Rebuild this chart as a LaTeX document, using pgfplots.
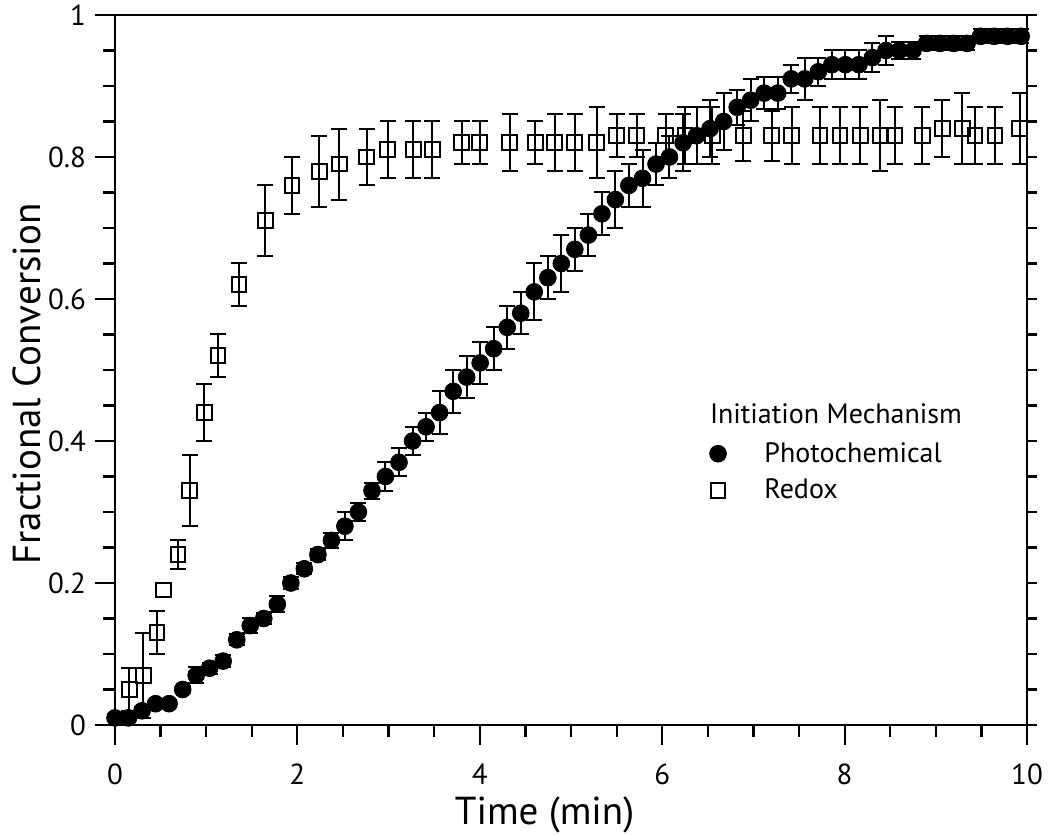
\documentclass[border=0pt]{standalone}
\usepackage{fontspec}
\setmainfont{PT Sans}
\usepackage{pgfplots}
\usepackage{pgfplotstable}
\pgfplotsset{compat=1.18}

\pgfplotstableread{
x y e
0.00 0.01 0.005
0.148 0.01 0.005
0.297 0.02 0.005
0.445 0.03 0.005
0.593 0.03 0.005
0.742 0.05 0.005
0.890 0.07 0.011
1.038 0.08 0.008
1.186 0.09 0.008
1.335 0.12 0.008
1.483 0.14 0.011
1.631 0.15 0.008
1.780 0.17 0.011
1.928 0.20 0.008
2.076 0.22 0.008
2.225 0.24 0.008
2.373 0.26 0.011
2.521 0.28 0.02
2.669 0.30 0.013
2.818 0.33 0.011
2.966 0.35 0.02
3.114 0.37 0.02
3.263 0.40 0.02
3.411 0.42 0.02
3.559 0.44 0.03
3.708 0.47 0.03
3.856 0.49 0.03
4.004 0.51 0.03
4.152 0.53 0.03
4.301 0.56 0.03
4.449 0.58 0.03
4.597 0.61 0.04
4.746 0.63 0.03
4.894 0.65 0.04
5.042 0.67 0.03
5.191 0.69 0.03
5.339 0.72 0.03
5.487 0.74 0.04
5.635 0.76 0.03
5.784 0.77 0.04
5.932 0.79 0.03
6.080 0.80 0.03
6.229 0.82 0.04
6.377 0.83 0.04
6.525 0.84 0.04
6.674 0.85 0.04
6.822 0.87 0.025
6.970 0.88 0.03
7.118 0.89 0.023
7.267 0.89 0.023
7.415 0.91 0.02
7.563 0.91 0.03
7.712 0.92 0.02
7.860 0.93 0.02
8.008 0.93 0.02
8.157 0.93 0.02
8.305 0.94 0.02
8.453 0.95 0.02
8.601 0.95 0.012
8.750 0.95 0.012
8.898 0.96 0.01
9.046 0.96 0.01
9.195 0.96 0.01
9.343 0.96 0.01
9.491 0.97 0.01
9.639 0.97 0.01
9.788 0.97 0.01
9.936 0.97 0.01
}\photo

\pgfplotstableread{
x y e
0.157 0.05 0.03
0.31 0.07 0.06
0.46 0.13 0.03
0.69 0.24 0.02
0.82 0.33 0.05
0.98 0.44 0.04
1.13 0.52 0.03
1.36 0.62 0.03
1.65 0.71 0.05
1.94 0.76 0.04
2.24 0.78 0.05
2.46 0.79 0.05
2.76 0.80 0.04
2.99 0.81 0.04
3.27 0.81 0.04
3.48 0.81 0.04
3.80 0.82 0.03
4.00 0.82 0.03
4.33 0.82 0.04
4.61 0.82 0.03
4.82 0.82 0.04
5.04 0.82 0.04
5.28 0.82 0.05
5.50 0.83 0.03
5.72 0.83 0.03
6.04 0.83 0.03
6.25 0.83 0.04
6.55 0.83 0.04
6.89 0.83 0.035
7.20 0.83 0.035
7.42 0.83 0.04
7.73 0.83 0.04
7.95 0.83 0.04
8.17 0.83 0.04
8.39 0.83 0.05
8.55 0.83 0.04
8.85 0.83 0.04
9.07 0.84 0.04
9.29 0.84 0.05
9.43 0.83 0.04
9.65 0.83 0.04
9.92 0.84 0.05
}\redox

\begin{document}
\begin{tikzpicture}
\useasboundingbox (-57.5pt,-55pt) rectangle (467.5pt,362.5pt);
\begin{axis}[
  at={(0,0)}, anchor=south west,
  scale only axis, width=456pt, height=355pt,
  xmin=0, xmax=10, ymin=0, ymax=1,
  xtick={0,2,4,6,8,10}, ytick={0,0.2,0.4,0.6,0.8,1},
  minor x tick num=3, minor y tick num=3,
  xtick pos=bottom, ytick pos=left, tick align=outside,
  major tick length=10pt, minor tick length=6pt,
  axis line style={line width=1.2pt},
  every tick/.style={black, line width=1.1pt},
  tick label style={font=\fontsize{14.5}{16}\selectfont},
  xticklabel style={yshift=-6pt},
  yticklabel style={xshift=-1pt},
  /pgf/number format/assume math mode=true,
  xlabel={Time (min)}, ylabel={Fractional Conversion},
  label style={font=\fontsize{19.5}{22}\selectfont},
  x label style={at={(axis description cs:0.471,-0.127)}, anchor=center},
  y label style={at={(axis description cs:-0.097,0.48)}, anchor=center},
  clip=false,
  reverse legend,
  legend style={draw=none, fill=none, at={(axis cs:6.45,0.41)}, anchor=north west,
    font=\fontsize{14}{16}\selectfont, row sep=3pt,
    /tikz/every odd column/.append style={column sep=17pt}},
  legend cell align=left,
]
\addplot[only marks, black, mark=square, mark size=3.7pt,
  mark options={line width=1pt, fill=white}, forget plot]
  coordinates {(0.53,0.19)};
\addplot[only marks, black, mark=square, mark size=3.7pt,
  mark options={line width=1pt, fill=white},
  error bars/.cd, y dir=both, y explicit,
  error bar style={line width=1pt, black},
  error mark options={rotate=90, mark size=4pt, line width=1pt, black}]
  table[x=x, y=y, y error=e] {\redox};
\addlegendentry{Redox}
\addplot[only marks, black, mark=*, mark size=4.2pt,
  error bars/.cd, y dir=both, y explicit,
  error bar style={line width=1pt, black},
  error mark options={rotate=90, mark size=4pt, line width=1pt, black}]
  table[x=x, y=y, y error=e] {\photo};
\addlegendentry{Photochemical}
\node[anchor=west, inner sep=0pt, font=\fontsize{14}{16}\selectfont] at (axis cs:6.52,0.439) {Initiation Mechanism};
\end{axis}
\begin{axis}[
  at={(0,0)}, anchor=south west,
  scale only axis, width=456pt, height=355pt,
  xmin=0, xmax=10, ymin=0, ymax=1,
  axis x line=none, axis y line*=right,
  ytick={0,0.05,0.1,0.15,0.2,0.25,0.3,0.35,0.4,0.45,0.5,0.55,0.6,0.65,0.7,0.75,0.8,0.85,0.9,0.95,1},
  yticklabels={},
  tick align=outside, major tick length=5pt,
  axis line style={line width=1.2pt},
  every tick/.style={black, line width=1.1pt},
]
\end{axis}
\end{tikzpicture}
\end{document}
